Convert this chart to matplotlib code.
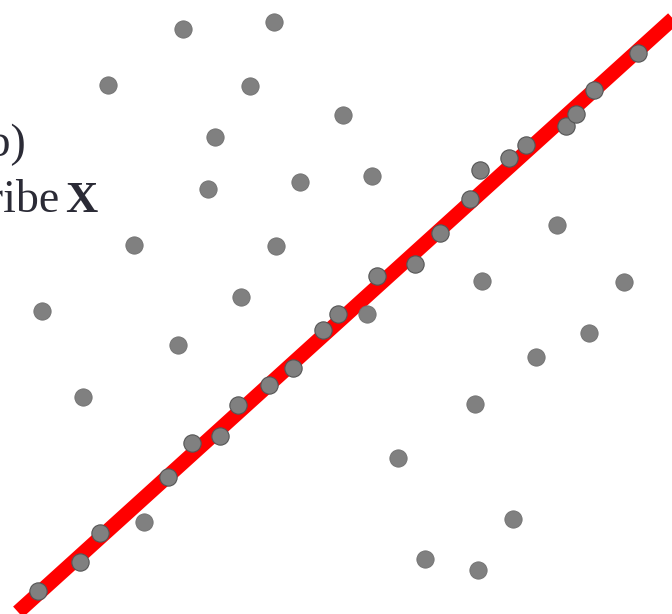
import matplotlib
matplotlib.use('Agg')
import matplotlib.pyplot as plt

# scattered points (image-space coordinates, y grows downward)
off_x = [183, 274, 108, 250, 343, 215, 208, 300, 372, 134, 276, 241, 42, 178,
         83, 144, 398, 425, 478, 513, 475, 536, 589, 624, 557, 482, 367]
off_y = [29, 22, 85, 86, 115, 137, 189, 182, 176, 245, 246, 297, 311, 345,
         397, 522, 458, 559, 570, 519, 404, 357, 333, 282, 225, 281, 314]

# points lying on the fitted line
on_x = [38, 80, 100, 168, 192, 220, 238, 269, 293, 323, 338, 377, 415, 440,
        470, 480, 509, 526, 566, 576, 594, 638]
on_y = [591, 562, 533, 477, 443, 436, 405, 385, 368, 330, 314, 276, 264, 233,
        199, 170, 158, 145, 126, 114, 90, 53]

line_x = [18, 676]
line_y = [612, 16]

fig = plt.figure(figsize=(6.72, 6.14), dpi=100)
ax = fig.add_axes([0, 0, 1, 1])
ax.set_xlim(0, 672)
ax.set_ylim(614, 0)
ax.axis('off')

ax.plot(line_x, line_y, color='#ff0000', linewidth=10.5, solid_capstyle='butt', zorder=2)
ax.scatter(off_x, off_y, s=155, color='#808080', edgecolors='#707070', linewidths=0.6, zorder=3)
ax.scatter(on_x, on_y, s=155, color='#808080', edgecolors='#555555', linewidths=0.8, zorder=3)

txt_color = '#2b2b36'
ax.text(26, 155, '(a, b)', ha='right', va='baseline', fontsize=33,
        family='Liberation Serif', color=txt_color)
ax.text(60, 212, 'Describe', ha='right', va='baseline', fontsize=33,
        family='Liberation Serif', color=txt_color)
ax.text(97, 212, 'X', ha='right', va='baseline', fontsize=32,
        family='Liberation Serif', fontweight='bold', color=txt_color)

plt.savefig('out.png', dpi=100)
